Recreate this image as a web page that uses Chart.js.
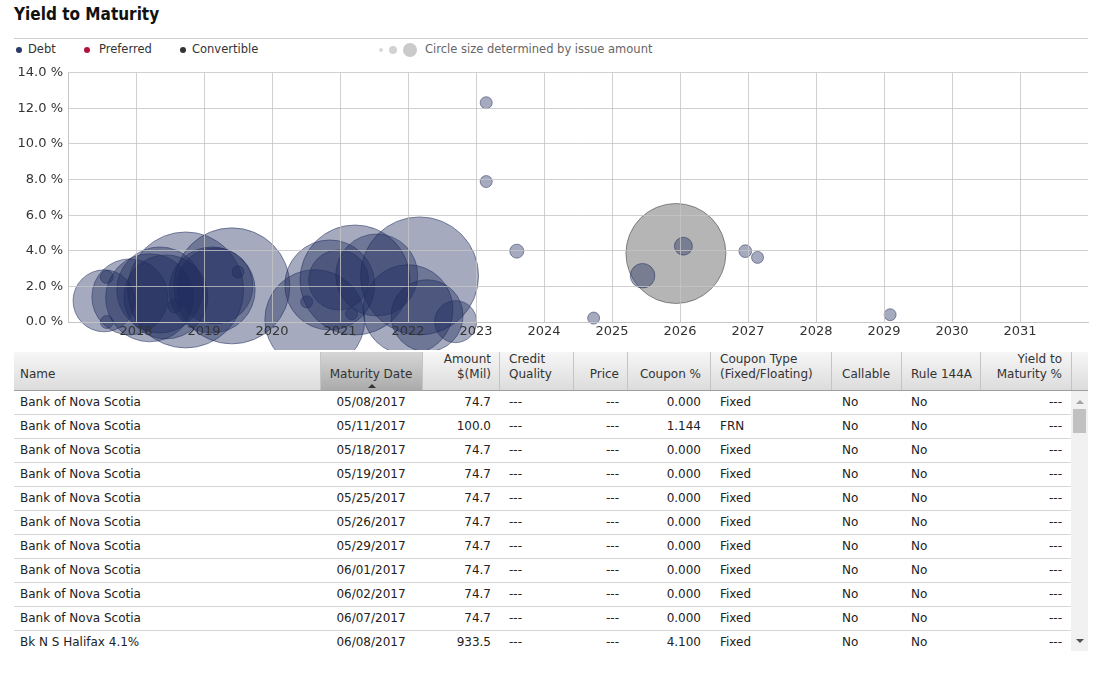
<!DOCTYPE html>
<html>
<head>
<meta charset="utf-8">
<script src="https://cdn.jsdelivr.net/npm/chart.js@4.4.1/dist/chart.umd.min.js"></script>
<style>
html,body{margin:0;padding:0;background:#fff;width:1102px;height:677px;overflow:hidden;font-family:"DejaVu Sans",Verdana,sans-serif;color:#333;}
#title{position:absolute;left:14px;top:4px;line-height:20px;font-weight:bold;font-size:17px;font-family:"DejaVu Sans Condensed","DejaVu Sans",sans-serif;color:#111;white-space:nowrap;}
#rule{position:absolute;left:14px;top:38px;width:1074px;height:1px;background:#cfcfcf;}
.lg{position:absolute;top:41px;line-height:16px;font-size:11.5px;white-space:nowrap;color:#333;}
.dot{position:absolute;border-radius:50%;}
#chartBox{position:absolute;left:0;top:60px;width:1102px;height:290px;}
#hdr{position:absolute;left:14px;top:352px;width:1074px;height:38px;background:linear-gradient(#f6f6f6,#dcdcdc);border-bottom:1px solid #9e9e9e;}
#sortcol{position:absolute;left:320px;top:352px;width:102px;height:38px;background:linear-gradient(#d6d6d6,#ababab);}
.sep{position:absolute;top:352px;height:38px;width:1px;background:#c4c4c4;}
.hc{position:absolute;top:352px;height:30px;padding-bottom:8px;display:flex;flex-direction:column;justify-content:flex-end;font-size:12px;line-height:15px;color:#333;white-space:nowrap;box-sizing:content-box;}
#arrow{position:absolute;left:368px;top:384px;width:0;height:0;border-left:4px solid transparent;border-right:4px solid transparent;border-bottom:4px solid #333;}
#body{position:absolute;left:14px;top:391px;width:1057px;height:260px;overflow:hidden;}
.row{position:absolute;left:0;width:1057px;height:23px;border-bottom:1px solid #d6d6d6;}
.cell{position:absolute;top:0;height:23px;line-height:23px;font-size:12px;color:#222;white-space:nowrap;}
#sb{position:absolute;left:1071px;top:391px;width:17px;height:260px;background:#f1f1f1;}
#thumb{position:absolute;left:2px;top:18px;width:13px;height:24px;background:#c1c1c1;}
#up{position:absolute;left:5px;top:9px;width:0;height:0;border-left:4px solid transparent;border-right:4px solid transparent;border-bottom:4px solid #a3a3a3;}
#down{position:absolute;left:5px;top:248px;width:0;height:0;border-left:4px solid transparent;border-right:4px solid transparent;border-top:4px solid #505050;}
</style>
</head>
<body>
<div id="title">Yield to Maturity</div>
<div id="rule"></div>

<div class="dot" style="left:16px;top:47px;width:6px;height:6px;background:#2c3868;"></div>
<div class="lg" style="left:28px;">Debt</div>
<div class="dot" style="left:84px;top:47px;width:6px;height:6px;background:#b0123c;"></div>
<div class="lg" style="left:99px;">Preferred</div>
<div class="dot" style="left:180px;top:47px;width:6px;height:6px;background:#333;"></div>
<div class="lg" style="left:192px;">Convertible</div>
<div class="dot" style="left:379px;top:48px;width:4px;height:4px;background:#d9d9d9;"></div>
<div class="dot" style="left:389px;top:46px;width:8px;height:8px;background:#d2d2d2;"></div>
<div class="dot" style="left:403px;top:43px;width:14px;height:14px;background:#cacaca;"></div>
<div class="lg" style="left:425px;color:#666;">Circle size determined by issue amount</div>

<div id="chartBox"><canvas id="c" width="1102" height="290"></canvas></div>

<div id="hdr"></div>
<div id="sortcol"></div>
<div id="hdrCells"></div>
<div id="arrow"></div>
<div id="body"></div>
<div id="sb"><div id="up"></div><div id="thumb"></div><div id="down"></div></div>

<script>
// ---- Chart data (maturity as decimal year, yield in %, issue amount in $Mil) ----
const debtMaturity = [2017.53, 2017.57, 2017.57, 2017.91, 2018.20, 2018.35, 2018.44, 2018.57, 2018.73, 2019.12, 2019.16, 2019.41, 2019.50, 2020.51, 2020.63, 2020.85, 2020.98, 2021.17, 2021.22, 2021.54, 2022.00, 2022.17, 2022.28, 2022.70, 2023.15, 2023.15, 2023.60, 2024.73, 2025.45, 2026.05, 2026.96, 2027.14, 2029.09];
const debtYield    = [1.19, 2.53, 0.00, 1.41, 1.36, 1.80, 1.41, 0.91, 1.80, 1.80, 2.03, 2.03, 2.81, 1.13, 0.13, 2.08, 2.36, 0.46, 2.36, 2.64, 0.69, 2.59, 0.35, 0.02, 12.32, 7.89, 3.98, 0.22, 2.60, 4.26, 3.98, 3.63, 0.41];
const debtAmount   = [667, 29, 29, 1003, 1344, 1284, 1225, 34, 2336, 1284, 1003, 2336, 25, 25, 1736, 1406, 625, 25, 2101, 1167, 1406, 2417, 900, 306, 25, 25, 34, 25, 105, 56, 28, 25, 25];

const convMaturity = [2025.94];
const convYield    = [3.85];
const convAmount   = [1736];

const prefMaturity = [];
const prefYield    = [];
const prefAmount   = [];

const yearMin = 2017, yearMax = 2032;
const yieldMin = 0, yieldMax = 14;

// ---- Table data ----
const names      = ["Bank of Nova Scotia","Bank of Nova Scotia","Bank of Nova Scotia","Bank of Nova Scotia","Bank of Nova Scotia","Bank of Nova Scotia","Bank of Nova Scotia","Bank of Nova Scotia","Bank of Nova Scotia","Bank of Nova Scotia","Bk N S Halifax 4.1%"];
const maturities = ["05/08/2017","05/11/2017","05/18/2017","05/19/2017","05/25/2017","05/26/2017","05/29/2017","06/01/2017","06/02/2017","06/07/2017","06/08/2017"];
const amounts    = ["74.7","100.0","74.7","74.7","74.7","74.7","74.7","74.7","74.7","74.7","933.5"];
const credit     = ["---","---","---","---","---","---","---","---","---","---","---"];
const prices     = ["---","---","---","---","---","---","---","---","---","---","---"];
const coupons    = ["0.000","1.144","0.000","0.000","0.000","0.000","0.000","0.000","0.000","0.000","4.100"];
const couponType = ["Fixed","FRN","Fixed","Fixed","Fixed","Fixed","Fixed","Fixed","Fixed","Fixed","Fixed"];
const callable   = ["No","No","No","No","No","No","No","No","No","No","No"];
const rule144a   = ["No","No","No","No","No","No","No","No","No","No","No"];
const ytm        = ["---","---","---","---","---","---","---","---","---","---","---"];
const headers    = [["Name"],["Maturity Date"],["Amount","$(Mil)"],["Credit","Quality"],["Price"],["Coupon %"],["Coupon Type","(Fixed/Floating)"],["Callable"],["Rule 144A"],["Yield to","Maturity %"]];

// ---- build bubble chart ----
const rOf = a => 1.2 * Math.sqrt(a);
const toPts = (xs, ys, as) => xs.map((x, i) => ({x: x, y: ys[i], r: rOf(as[i])}));

const gridCol = 'rgba(196,196,196,0.8)';
const tickFont = {family: '"DejaVu Sans", Verdana, sans-serif', size: 13};

new Chart(document.getElementById('c'), {
  type: 'bubble',
  data: {
    datasets: [
      {label: 'Debt', data: toPts(debtMaturity, debtYield, debtAmount),
       backgroundColor: 'rgba(30,43,92,0.4)', borderColor: 'rgba(30,43,92,0.5)', borderWidth: 1, clip: false},
      {label: 'Preferred', data: toPts(prefMaturity, prefYield, prefAmount),
       backgroundColor: 'rgba(176,18,60,0.4)', borderColor: 'rgba(176,18,60,0.5)', borderWidth: 1, clip: false},
      {label: 'Convertible', data: toPts(convMaturity, convYield, convAmount),
       backgroundColor: 'rgba(51,51,51,0.36)', borderColor: 'rgba(51,51,51,0.5)', borderWidth: 1, clip: false}
    ]
  },
  options: {
    responsive: false,
    devicePixelRatio: 1,
    animation: false,
    events: [],
    layout: {autoPadding: false, padding: {left: 0, top: 11, right: 14, bottom: 0}},
    plugins: {legend: {display: false}, tooltip: {enabled: false}},
    scales: {
      x: {
        type: 'linear', min: yearMin, max: yearMax,
        afterFit: s => { s.height = 28; },
        grid: {z: 1, drawTicks: false, color: c => (c.tick && c.tick.value === yearMax) ? 'rgba(0,0,0,0)' : gridCol},
        border: {z: 1, display: true, color: gridCol},
        ticks: {z: 1, stepSize: 1, autoSkip: false, maxRotation: 0, padding: 2, color: '#333', font: tickFont,
          callback: v => (v === yearMin || v === yearMax) ? '' : String(v)}
      },
      y: {
        type: 'linear', min: yieldMin, max: yieldMax,
        afterFit: s => { s.width = 68; },
        grid: {z: 1, drawTicks: false, color: gridCol},
        border: {z: 1, display: true, color: gridCol},
        ticks: {z: 1, stepSize: 2, padding: 5, color: '#333', font: tickFont,
          callback: v => v.toFixed(1) + ' %'}
      }
    }
  }
});

// ---- build table ----
const colEdges = [14, 320, 422, 499, 573, 627, 710, 831, 901, 980, 1071];
const colAlign = ['left','center','right','left','right','right','left','left','left','right'];
const colPad   = [6, 0, 8, 10, 8, 9, 10, 11, 10, 9];

const hc = document.getElementById('hdrCells');
for (let i = 1; i < colEdges.length; i++) {
  const s = document.createElement('div');
  s.className = 'sep';
  s.style.left = colEdges[i] + 'px';
  hc.appendChild(s);
}
headers.forEach((lines, i) => {
  const d = document.createElement('div');
  d.className = 'hc';
  const w = colEdges[i+1] - colEdges[i];
  d.style.left = colEdges[i] + 'px';
  d.style.width = w + 'px';
  d.style.alignItems = colAlign[i] === 'left' ? 'flex-start' : (colAlign[i] === 'right' ? 'flex-end' : 'center');
  if (colAlign[i] === 'left') { d.style.paddingLeft = colPad[i] + 'px'; d.style.width = (w - colPad[i]) + 'px'; }
  if (colAlign[i] === 'right') { d.style.paddingRight = colPad[i] + 'px'; d.style.width = (w - colPad[i]) + 'px'; }
  lines.forEach(t => { const sp = document.createElement('div'); sp.textContent = t; sp.style.textAlign = colAlign[i]; d.appendChild(sp); });
  hc.appendChild(d);
});

const body = document.getElementById('body');
const cols = [names, maturities, amounts, credit, prices, coupons, couponType, callable, rule144a, ytm];
names.forEach((_, r) => {
  const row = document.createElement('div');
  row.className = 'row';
  row.style.top = (r * 24) + 'px';
  cols.forEach((arr, i) => {
    const c = document.createElement('div');
    c.className = 'cell';
    const x0 = colEdges[i] - 14, w = colEdges[i+1] - colEdges[i];
    c.style.left = x0 + 'px';
    c.style.width = w + 'px';
    c.style.textAlign = colAlign[i];
    c.style.boxSizing = 'border-box';
    if (colAlign[i] === 'left') c.style.paddingLeft = colPad[i] + 'px';
    if (colAlign[i] === 'right') c.style.paddingRight = colPad[i] + 'px';
    c.textContent = arr[r];
    row.appendChild(c);
  });
  body.appendChild(row);
});
</script>
</body>
</html>
